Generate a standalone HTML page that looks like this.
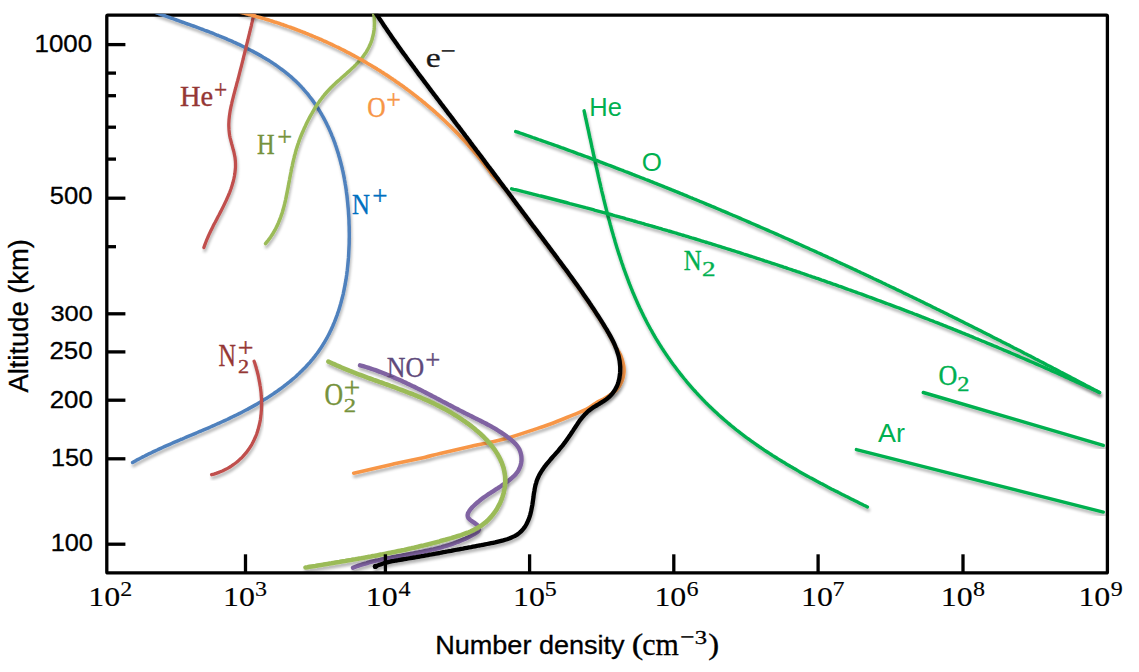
<!DOCTYPE html>
<html><head><meta charset="utf-8"><title>Ion and neutral number density vs altitude</title>
<style>html,body{margin:0;padding:0;background:#fff;}body{width:1139px;height:672px;overflow:hidden;}svg{display:block;}</style>
</head><body>
<svg width="1139" height="672" viewBox="0 0 1139 672">
<defs><clipPath id="pc"><rect x="106.8" y="13.8" width="1000.6000000000001" height="559.1"/></clipPath><filter id="sh" x="-5%" y="-5%" width="110%" height="110%"><feGaussianBlur in="SourceAlpha" stdDeviation="1.4"/><feOffset dx="0.8" dy="2.6" result="o"/><feComponentTransfer><feFuncA type="linear" slope="0.30"/></feComponentTransfer><feMerge><feMergeNode/><feMergeNode in="SourceGraphic"/></feMerge></filter></defs>
<rect x="106.8" y="15.2" width="1000.6" height="557.7" fill="none" rx="1" stroke="#000" stroke-width="3.3"/>
<g clip-path="url(#pc)" fill="none" stroke-linecap="round" stroke-linejoin="round">
<path d="M155.5,12.4 L157.2,13.0 L158.9,13.7 L160.6,14.3 L162.3,14.9 L164.0,15.5 L165.8,16.2 L167.6,16.8 L169.4,17.4 L171.1,18.1 L172.9,18.7 L174.8,19.3 L176.6,20.0 L178.4,20.6 L180.3,21.3 L182.1,22.0 L184.0,22.6 L185.8,23.3 L187.7,24.0 L189.6,24.6 L191.5,25.3 L193.4,26.0 L195.3,26.7 L197.2,27.4 L199.1,28.1 L201.0,28.8 L202.9,29.5 L204.9,30.3 L206.8,31.0 L208.7,31.7 L210.6,32.5 L212.6,33.2 L214.5,34.0 L216.4,34.8 L218.3,35.5 L220.3,36.3 L222.2,37.1 L224.1,37.9 L226.0,38.7 L227.9,39.6 L229.9,40.4 L231.8,41.2 L233.7,42.1 L235.6,42.9 L237.5,43.8 L239.4,44.7 L241.3,45.6 L243.1,46.5 L245.0,47.4 L246.9,48.3 L248.7,49.2 L250.6,50.2 L252.4,51.1 L254.2,52.1 L256.1,53.1 L257.9,54.1 L259.7,55.1 L261.5,56.1 L263.2,57.2 L265.0,58.2 L266.7,59.3 L268.5,60.3 L270.2,61.4 L271.9,62.5 L273.6,63.6 L275.3,64.8 L276.9,65.9 L278.6,67.1 L280.2,68.3 L281.8,69.5 L283.4,70.7 L285.0,71.9 L286.5,73.1 L288.1,74.4 L289.6,75.7 L291.1,76.9 L292.6,78.3 L294.0,79.6 L295.5,80.9 L296.9,82.3 L298.3,83.6 L299.6,85.0 L301.0,86.4 L302.3,87.9 L303.6,89.3 L304.9,90.8 L306.2,92.3 L307.4,93.7 L308.6,95.2 L309.8,96.8 L311.0,98.3 L312.2,99.9 L313.3,101.4 L314.4,103.0 L315.5,104.6 L316.6,106.2 L317.6,107.8 L318.7,109.5 L319.7,111.1 L320.7,112.8 L321.7,114.5 L322.6,116.2 L323.6,117.9 L324.5,119.6 L325.4,121.3 L326.3,123.1 L327.1,124.8 L328.0,126.6 L328.8,128.3 L329.6,130.1 L330.4,131.9 L331.2,133.7 L331.9,135.6 L332.7,137.4 L333.4,139.2 L334.1,141.1 L334.8,142.9 L335.4,144.8 L336.1,146.7 L336.7,148.6 L337.3,150.5 L337.9,152.4 L338.5,154.3 L339.0,156.2 L339.6,158.1 L340.1,160.1 L340.6,162.0 L341.1,164.0 L341.6,165.9 L342.1,167.9 L342.5,169.9 L343.0,171.8 L343.4,173.8 L343.8,175.8 L344.2,177.8 L344.5,179.8 L344.9,181.8 L345.2,183.8 L345.6,185.9 L345.9,187.9 L346.2,189.9 L346.4,191.9 L346.7,194.0 L347.0,196.0 L347.2,198.0 L347.4,200.1 L347.6,202.1 L347.8,204.2 L348.0,206.3 L348.2,208.3 L348.4,210.4 L348.5,212.4 L348.6,214.5 L348.8,216.6 L348.9,218.6 L349.0,220.7 L349.0,222.8 L349.1,224.8 L349.2,226.9 L349.2,229.0 L349.2,231.1 L349.3,233.1 L349.3,235.2 L349.3,237.3 L349.2,239.4 L349.2,241.4 L349.2,243.5 L349.1,245.6 L349.0,247.6 L348.9,249.7 L348.8,251.8 L348.7,253.8 L348.6,255.9 L348.5,257.9 L348.3,260.0 L348.1,262.0 L347.9,264.1 L347.7,266.1 L347.5,268.1 L347.3,270.2 L347.0,272.2 L346.8,274.2 L346.5,276.2 L346.2,278.2 L345.9,280.2 L345.5,282.2 L345.2,284.2 L344.8,286.2 L344.4,288.2 L344.0,290.2 L343.6,292.1 L343.2,294.1 L342.7,296.1 L342.2,298.0 L341.7,299.9 L341.2,301.9 L340.7,303.8 L340.1,305.7 L339.6,307.6 L339.0,309.5 L338.4,311.4 L337.7,313.2 L337.1,315.1 L336.4,316.9 L335.7,318.8 L335.0,320.6 L334.3,322.4 L333.5,324.2 L332.8,326.0 L332.0,327.8 L331.2,329.6 L330.3,331.3 L329.5,333.1 L328.6,334.8 L327.7,336.5 L326.8,338.3 L325.8,339.9 L324.8,341.6 L323.8,343.3 L322.8,344.9 L321.8,346.6 L320.7,348.2 L319.6,349.8 L318.5,351.4 L317.4,353.0 L316.2,354.5 L315.0,356.1 L313.8,357.6 L312.6,359.1 L311.3,360.6 L310.1,362.1 L308.8,363.6 L307.4,365.0 L306.1,366.5 L304.7,367.9 L303.3,369.3 L301.9,370.7 L300.5,372.1 L299.1,373.5 L297.6,374.8 L296.2,376.2 L294.7,377.5 L293.1,378.8 L291.6,380.1 L290.1,381.4 L288.5,382.6 L286.9,383.9 L285.3,385.1 L283.7,386.4 L282.1,387.6 L280.5,388.8 L278.8,390.0 L277.2,391.2 L275.5,392.3 L273.8,393.5 L272.1,394.6 L270.4,395.8 L268.7,396.9 L267.0,398.0 L265.2,399.1 L263.5,400.1 L261.7,401.2 L260.0,402.3 L258.2,403.3 L256.4,404.4 L254.6,405.4 L252.8,406.4 L251.0,407.4 L249.2,408.4 L247.4,409.4 L245.6,410.3 L243.7,411.3 L241.9,412.2 L240.1,413.2 L238.2,414.1 L236.4,415.0 L234.5,415.9 L232.7,416.8 L230.8,417.7 L229.0,418.6 L227.1,419.5 L225.3,420.3 L223.4,421.2 L221.6,422.0 L219.7,422.9 L217.9,423.7 L216.0,424.5 L214.1,425.4 L212.3,426.2 L210.4,427.0 L208.6,427.8 L206.7,428.6 L204.8,429.4 L203.0,430.2 L201.1,431.0 L199.3,431.7 L197.4,432.5 L195.5,433.3 L193.7,434.1 L191.8,434.9 L190.0,435.6 L188.1,436.4 L186.3,437.2 L184.4,438.0 L182.6,438.8 L180.7,439.5 L178.9,440.3 L177.1,441.1 L175.2,441.9 L173.4,442.7 L171.6,443.5 L169.8,444.3 L167.9,445.1 L166.1,445.9 L164.3,446.7 L162.5,447.5 L160.7,448.3 L158.9,449.1 L157.1,450.0 L155.3,450.8 L153.5,451.6 L151.8,452.5 L150.0,453.4 L148.2,454.2 L146.4,455.1 L144.7,456.0 L142.9,456.9 L141.2,457.8 L139.4,458.7 L137.7,459.6 L136.0,460.6 L134.3,461.5 L132.6,462.5" stroke="#4f81bd" stroke-width="3.5" filter="url(#sh)"/>
<path d="M254.5,12.0 L254.0,14.0 L253.6,15.9 L253.1,17.9 L252.6,19.9 L252.2,21.9 L251.7,23.8 L251.3,25.8 L250.8,27.8 L250.3,29.7 L249.9,31.7 L249.4,33.6 L248.9,35.6 L248.4,37.6 L248.0,39.5 L247.5,41.5 L247.0,43.4 L246.5,45.4 L246.1,47.3 L245.6,49.3 L245.1,51.2 L244.6,53.2 L244.1,55.1 L243.6,57.0 L243.2,59.0 L242.7,60.9 L242.2,62.9 L241.7,64.8 L241.2,66.8 L240.7,68.7 L240.2,70.7 L239.7,72.6 L239.2,74.6 L238.7,76.6 L238.2,78.5 L237.7,80.5 L237.1,82.4 L236.6,84.4 L236.1,86.4 L235.6,88.3 L235.0,90.3 L234.5,92.3 L234.0,94.2 L233.5,96.2 L233.0,98.2 L232.5,100.2 L232.0,102.2 L231.6,104.1 L231.1,106.1 L230.7,108.1 L230.3,110.1 L230.0,112.1 L229.7,114.1 L229.4,116.0 L229.2,118.0 L229.0,120.0 L228.9,122.0 L228.8,124.0 L228.8,125.9 L228.9,127.9 L229.0,129.9 L229.2,131.9 L229.4,133.8 L229.7,135.8 L230.1,137.8 L230.6,139.7 L231.1,141.7 L231.6,143.7 L232.2,145.6 L232.7,147.6 L233.2,149.6 L233.8,151.5 L234.2,153.5 L234.6,155.5 L235.0,157.4 L235.2,159.4 L235.4,161.4 L235.5,163.4 L235.5,165.4 L235.5,167.4 L235.3,169.4 L235.1,171.4 L234.9,173.3 L234.6,175.3 L234.2,177.3 L233.8,179.2 L233.3,181.1 L232.8,183.1 L232.2,185.0 L231.6,186.9 L231.0,188.8 L230.3,190.7 L229.6,192.6 L228.8,194.5 L228.0,196.3 L227.2,198.2 L226.4,200.0 L225.5,201.9 L224.6,203.7 L223.7,205.6 L222.8,207.4 L221.9,209.2 L221.0,211.1 L220.0,212.9 L219.1,214.7 L218.1,216.5 L217.2,218.4 L216.2,220.2 L215.3,222.0 L214.3,223.8 L213.4,225.6 L212.5,227.4 L211.6,229.3 L210.7,231.1 L209.8,232.9 L209.0,234.7 L208.2,236.5 L207.4,238.4 L206.6,240.2 L205.9,242.0 L205.2,243.9 L204.5,245.7 L203.9,247.6" stroke="#c0504d" stroke-width="3.3" filter="url(#sh)"/>
<path d="M372.6,8.7 L373.1,10.8 L373.5,13.0 L373.9,15.1 L374.2,17.3 L374.3,19.4 L374.4,21.5 L374.5,23.6 L374.4,25.6 L374.3,27.7 L374.1,29.7 L373.8,31.7 L373.5,33.7 L373.0,35.7 L372.5,37.6 L372.0,39.5 L371.4,41.4 L370.7,43.2 L369.9,45.0 L369.1,46.8 L368.2,48.5 L367.3,50.2 L366.3,51.9 L365.2,53.5 L364.1,55.1 L363.0,56.7 L361.7,58.3 L360.5,59.8 L359.2,61.2 L357.9,62.7 L356.5,64.1 L355.1,65.6 L353.7,67.0 L352.2,68.3 L350.7,69.7 L349.2,71.1 L347.7,72.4 L346.2,73.8 L344.7,75.1 L343.1,76.5 L341.6,77.8 L340.1,79.2 L338.5,80.6 L337.0,81.9 L335.5,83.3 L334.0,84.7 L332.6,86.1 L331.1,87.5 L329.7,89.0 L328.3,90.5 L326.9,92.0 L325.6,93.5 L324.3,95.0 L323.0,96.6 L321.8,98.2 L320.6,99.8 L319.4,101.4 L318.3,103.1 L317.1,104.8 L316.0,106.4 L314.9,108.2 L313.9,109.9 L312.9,111.6 L311.9,113.4 L310.9,115.1 L309.9,116.9 L309.0,118.7 L308.0,120.5 L307.1,122.3 L306.2,124.1 L305.4,125.9 L304.5,127.8 L303.7,129.6 L302.9,131.5 L302.1,133.3 L301.3,135.2 L300.5,137.1 L299.8,139.0 L299.1,140.9 L298.5,142.8 L297.8,144.7 L297.2,146.6 L296.6,148.5 L296.0,150.4 L295.5,152.4 L295.0,154.3 L294.4,156.3 L294.0,158.2 L293.5,160.2 L293.0,162.1 L292.6,164.1 L292.2,166.1 L291.7,168.0 L291.3,170.0 L291.0,172.0 L290.6,174.0 L290.2,176.0 L289.8,178.0 L289.5,180.0 L289.1,181.9 L288.7,183.9 L288.4,185.9 L288.0,187.9 L287.6,189.9 L287.2,191.9 L286.8,193.9 L286.4,195.9 L286.0,197.8 L285.6,199.8 L285.1,201.8 L284.7,203.7 L284.2,205.7 L283.7,207.6 L283.1,209.5 L282.6,211.5 L282.0,213.4 L281.3,215.3 L280.7,217.1 L280.0,219.0 L279.2,220.9 L278.5,222.7 L277.7,224.6 L276.8,226.4 L275.9,228.2 L275.0,230.0 L274.0,231.7 L272.9,233.5 L271.8,235.2 L270.7,236.9 L269.5,238.6 L268.2,240.3 L266.9,241.9 L265.5,243.6" stroke="#9bbb59" stroke-width="3.5" filter="url(#sh)"/>
<path d="M254.1,361.2 L254.8,363.1 L255.4,365.1 L256.0,367.0 L256.5,369.0 L257.1,371.0 L257.6,373.0 L258.1,375.0 L258.5,377.0 L258.9,379.0 L259.3,381.1 L259.7,383.1 L260.0,385.2 L260.4,387.2 L260.6,389.3 L260.9,391.4 L261.1,393.4 L261.2,395.5 L261.4,397.6 L261.5,399.7 L261.5,401.7 L261.5,403.8 L261.5,405.9 L261.5,407.9 L261.4,410.0 L261.2,412.0 L261.1,414.0 L260.8,416.1 L260.6,418.1 L260.3,420.1 L259.9,422.1 L259.5,424.0 L259.0,426.0 L258.5,427.9 L258.0,429.8 L257.4,431.7 L256.8,433.6 L256.1,435.4 L255.3,437.3 L254.5,439.0 L253.7,440.8 L252.8,442.6 L251.9,444.3 L250.9,446.0 L249.8,447.6 L248.7,449.3 L247.6,450.8 L246.4,452.4 L245.1,453.9 L243.8,455.4 L242.5,456.9 L241.1,458.3 L239.6,459.6 L238.1,461.0 L236.6,462.3 L235.0,463.5 L233.3,464.7 L231.6,465.9 L229.9,467.0 L228.0,468.1 L226.2,469.1 L224.3,470.0 L222.3,471.0 L220.3,471.8 L218.2,472.6 L216.0,473.4 L213.9,474.1 L211.6,474.7" stroke="#c0504d" stroke-width="3.3" filter="url(#sh)"/>
<path d="M239.6,12.0 C239.9,12.0 240.9,12.3 241.5,12.5 C242.2,12.6 242.9,12.8 243.5,13.0 C244.2,13.1 244.8,13.3 245.5,13.5 C246.1,13.6 246.8,13.8 247.4,14.0 C248.1,14.1 248.8,14.3 249.4,14.5 C250.1,14.7 250.7,14.8 251.4,15.0 C252.0,15.2 252.7,15.4 253.3,15.6 C254.0,15.7 254.6,15.9 255.3,16.1 C255.9,16.3 256.6,16.5 257.2,16.7 C257.9,16.8 258.6,17.0 259.2,17.2 C259.9,17.4 260.5,17.6 261.2,17.8 C261.8,18.0 262.5,18.2 263.1,18.4 C263.7,18.6 264.4,18.8 265.0,18.9 C265.7,19.1 266.3,19.3 267.0,19.5 C267.6,19.7 268.3,19.9 268.9,20.1 C269.6,20.3 270.2,20.5 270.9,20.7 C271.5,20.9 272.2,21.2 272.8,21.4 C273.4,21.6 274.1,21.8 274.7,22.0 C275.4,22.2 276.0,22.4 276.7,22.6 C277.3,22.8 277.9,23.0 278.6,23.2 C279.2,23.5 279.9,23.7 280.5,23.9 C281.1,24.1 281.8,24.3 282.4,24.5 C283.1,24.8 283.7,25.0 284.3,25.2 C285.0,25.4 285.6,25.7 286.3,25.9 C286.9,26.1 287.5,26.3 288.2,26.6 C288.8,26.8 289.4,27.0 290.1,27.2 C290.7,27.5 291.3,27.7 292.0,27.9 C292.6,28.2 293.2,28.4 293.9,28.6 C294.5,28.9 295.1,29.1 295.8,29.3 C296.4,29.6 297.0,29.8 297.7,30.0 C298.3,30.3 298.9,30.5 299.6,30.8 C300.2,31.0 300.8,31.3 301.5,31.5 C302.1,31.7 302.7,32.0 303.3,32.2 C304.0,32.5 304.6,32.7 305.2,33.0 C305.8,33.2 306.5,33.5 307.1,33.7 C307.7,34.0 308.4,34.2 309.0,34.5 C309.6,34.8 310.2,35.0 310.8,35.3 C311.5,35.5 312.1,35.8 312.7,36.0 C313.3,36.3 314.0,36.6 314.6,36.8 C315.2,37.1 315.8,37.4 316.4,37.6 C317.1,37.9 317.7,38.2 318.3,38.4 C318.9,38.7 319.5,39.0 320.1,39.2 C320.8,39.5 321.4,39.8 322.0,40.0 C322.6,40.3 323.2,40.6 323.8,40.9 C324.5,41.1 325.1,41.4 325.7,41.7 C326.3,42.0 326.9,42.3 327.5,42.5 C328.1,42.8 328.7,43.1 329.4,43.4 C330.0,43.7 330.6,44.0 331.2,44.2 C331.8,44.5 332.4,44.8 333.0,45.1 C333.6,45.4 334.2,45.7 334.8,46.0 C335.4,46.3 336.0,46.6 336.7,46.9 C337.3,47.1 337.9,47.4 338.5,47.7 C339.1,48.0 339.7,48.3 340.3,48.6 C340.9,48.9 341.5,49.2 342.1,49.5 C342.7,49.8 343.3,50.1 343.9,50.4 C344.5,50.7 345.1,51.0 345.7,51.4 C346.3,51.7 346.9,52.0 347.5,52.3 C348.1,52.6 348.7,52.9 349.3,53.2 C349.9,53.5 350.5,53.8 351.0,54.2 C351.6,54.5 352.2,54.8 352.8,55.1 C353.4,55.4 354.0,55.7 354.6,56.1 C355.2,56.4 355.8,56.7 356.4,57.0 C357.0,57.3 357.6,57.7 358.1,58.0 C358.7,58.3 359.3,58.6 359.9,59.0 C360.5,59.3 361.1,59.6 361.7,59.9 C362.2,60.3 362.8,60.6 363.4,60.9 C364.0,61.3 364.6,61.6 365.2,61.9 C365.7,62.3 366.3,62.6 366.9,63.0 C367.5,63.3 368.1,63.6 368.6,64.0 C369.2,64.3 369.8,64.7 370.4,65.0 C371.0,65.3 371.5,65.7 372.1,66.0 C372.7,66.4 373.3,66.7 373.8,67.1 C374.4,67.4 375.0,67.8 375.5,68.1 C376.1,68.5 376.7,68.8 377.3,69.2 C377.8,69.5 378.4,69.9 379.0,70.2 C379.5,70.6 380.1,70.9 380.7,71.3 C381.2,71.7 381.8,72.0 382.4,72.4 C382.9,72.7 383.5,73.1 384.1,73.5 C384.6,73.8 385.2,74.2 385.8,74.6 C386.3,74.9 386.9,75.3 387.4,75.7 C388.0,76.0 388.6,76.4 389.1,76.8 C389.7,77.1 390.2,77.5 390.8,77.9 C391.4,78.3 391.9,78.6 392.5,79.0 C393.0,79.4 393.6,79.8 394.1,80.2 C394.7,80.5 395.2,80.9 395.8,81.3 C396.3,81.7 396.9,82.1 397.4,82.4 C398.0,82.8 398.5,83.2 399.1,83.6 C399.6,84.0 400.2,84.4 400.7,84.8 C401.3,85.2 401.8,85.5 402.4,85.9 C402.9,86.3 403.5,86.7 404.0,87.1 C404.5,87.5 405.1,87.9 405.6,88.3 C406.2,88.7 406.7,89.1 407.2,89.5 C407.8,89.9 408.3,90.3 408.9,90.7 C409.4,91.1 409.9,91.5 410.5,91.9 C411.0,92.3 411.5,92.7 412.1,93.1 C412.6,93.5 413.1,93.9 413.7,94.4 C414.2,94.8 414.7,95.2 415.3,95.6 C415.8,96.0 416.3,96.4 416.8,96.8 C417.4,97.2 417.9,97.7 418.4,98.1 C418.9,98.5 419.5,98.9 420.0,99.3 C420.5,99.8 421.0,100.2 421.6,100.6 C422.1,101.0 422.6,101.4 423.1,101.9 C423.6,102.3 424.2,102.7 424.7,103.2 C425.2,103.6 425.7,104.0 426.2,104.4 C426.7,104.9 427.3,105.3 427.8,105.7 C428.3,106.2 428.8,106.6 429.3,107.0 C429.8,107.5 430.3,107.9 430.8,108.4 C431.3,108.8 431.9,109.2 432.4,109.7 C432.9,110.1 433.4,110.6 433.9,111.0 C434.4,111.4 434.9,111.9 435.4,112.3 C435.9,112.8 436.4,113.2 436.9,113.7 C437.4,114.1 437.9,114.6 438.4,115.0 C438.9,115.5 439.4,115.9 439.9,116.4 C440.4,116.8 440.9,117.3 441.4,117.7 C441.9,118.2 442.4,118.7 442.9,119.1 C443.3,119.6 443.8,120.0 444.3,120.5 C444.8,121.0 445.3,121.4 445.8,121.9 C446.3,122.4 446.8,122.8 447.3,123.3 C447.7,123.8 448.2,124.2 448.7,124.7 C449.2,125.2 449.7,125.6 450.2,126.1 C450.6,126.6 451.1,127.0 451.6,127.5 C452.1,128.0 452.6,128.5 453.0,128.9 C453.5,129.4 454.0,129.9 454.5,130.4 C454.9,130.9 455.4,131.3 455.9,131.8 C456.3,132.3 456.8,132.8 457.3,133.3 C457.8,133.8 458.2,134.2 458.7,134.7 C459.2,135.2 459.6,135.7 460.1,136.2 C460.6,136.7 461.0,137.2 461.5,137.7 C462.0,138.2 462.4,138.7 462.9,139.2 C463.3,139.7 463.8,140.1 464.3,140.6 C464.7,141.1 465.2,141.6 465.6,142.1 C466.1,142.6 466.5,143.1 467.0,143.6 C467.4,144.2 467.9,144.7 468.3,145.2 C468.8,145.7 469.2,146.2 469.7,146.7 C470.1,147.2 470.6,147.7 471.0,148.2 C471.5,148.7 471.9,149.2 472.4,149.7 C472.8,150.3 473.3,150.8 473.7,151.3 C474.1,151.8 474.6,152.3 475.0,152.8 C475.5,153.4 475.9,153.9 476.3,154.4 C476.8,154.9 477.2,155.4 477.6,156.0 C478.1,156.5 478.5,157.0 478.9,157.5 C479.4,158.1 479.8,158.6 480.2,159.1 C480.7,159.7 481.1,160.2 481.5,160.7 C481.9,161.2 482.4,161.8 482.8,162.3 C483.2,162.8 483.6,163.4 484.1,163.9 C484.5,164.5 484.9,165.0 485.3,165.5 C485.7,166.1 486.2,166.6 486.6,167.2 C487.0,167.7 487.4,168.2 487.8,168.8 C488.2,169.3 488.6,169.9 489.1,170.4 C489.5,171.0 489.9,171.5 490.3,172.1 C490.7,172.6 491.1,173.2 491.5,173.7 C491.9,174.3 490.6,173.1 492.7,175.4 C494.8,177.7 501.9,185.2 503.9,187.5 C506.0,189.8 504.8,188.6 505.2,189.1 C505.6,189.6 506.0,190.2 506.4,190.7 C506.8,191.2 507.2,191.8 507.6,192.3 C508.0,192.9 508.4,193.4 508.8,193.9 C509.2,194.5 509.6,195.0 510.0,195.5 C510.4,196.1 510.8,196.6 511.2,197.1 C511.6,197.7 512.0,198.2 512.4,198.8 C512.8,199.3 513.2,199.8 513.6,200.4 C514.0,200.9 514.4,201.4 514.8,202.0 C515.2,202.5 515.6,203.0 516.0,203.6 C516.4,204.1 516.8,204.6 517.2,205.2 C517.6,205.7 518.0,206.3 518.4,206.8 C518.8,207.3 519.2,207.9 519.6,208.4 C520.0,208.9 520.4,209.5 520.8,210.0 C521.2,210.5 521.6,211.1 522.0,211.6 C522.4,212.1 522.8,212.7 523.2,213.2 C523.6,213.8 524.0,214.3 524.4,214.8 C524.8,215.4 525.2,215.9 525.6,216.4 C526.0,217.0 526.4,217.5 526.8,218.0 C527.2,218.6 527.6,219.1 528.0,219.6 C528.4,220.2 528.8,220.7 529.2,221.2 C529.6,221.8 530.0,222.3 530.4,222.9 C530.8,223.4 531.2,223.9 531.6,224.5 C532.0,225.0 532.4,225.5 532.8,226.1 C533.3,226.6 533.7,227.1 534.1,227.7 C534.5,228.2 534.9,228.7 535.3,229.3 C535.7,229.8 536.1,230.3 536.5,230.9 C536.9,231.4 537.3,231.9 537.7,232.5 C538.1,233.0 538.5,233.5 538.9,234.1 C539.3,234.6 539.7,235.1 540.1,235.7 C540.5,236.2 540.9,236.8 541.3,237.3 C541.7,237.8 542.1,238.4 542.5,238.9 C542.9,239.4 543.3,240.0 543.7,240.5 C544.1,241.0 544.5,241.6 544.9,242.1 C545.3,242.6 545.7,243.2 546.1,243.7 C546.5,244.2 546.9,244.8 547.3,245.3 C547.7,245.8 548.1,246.4 548.5,246.9 C548.9,247.4 549.3,248.0 549.7,248.5 C550.1,249.0 550.5,249.6 550.9,250.1 C551.3,250.6 551.7,251.2 552.1,251.7 C552.5,252.2 552.9,252.8 553.3,253.3 C553.7,253.8 554.1,254.4 554.5,254.9 C554.9,255.4 555.3,256.0 555.7,256.5 C556.1,257.0 556.5,257.6 556.9,258.1 C557.3,258.6 557.6,259.2 558.0,259.7 C558.4,260.2 558.8,260.8 559.2,261.3 C559.6,261.8 560.0,262.4 560.4,262.9 C560.8,263.4 561.2,264.0 561.6,264.5 C562.0,265.0 562.4,265.6 562.8,266.1 C563.2,266.6 563.6,267.2 564.0,267.7 C564.4,268.2 564.8,268.8 565.2,269.3 C565.6,269.9 566.0,270.4 566.4,270.9 C566.8,271.5 567.2,272.0 567.6,272.5 C568.0,273.1 568.3,273.6 568.7,274.1 C569.1,274.7 569.5,275.2 569.9,275.8 C570.3,276.3 570.7,276.8 571.1,277.4 C571.5,277.9 571.9,278.5 572.3,279.0 C572.7,279.5 573.1,280.1 573.4,280.6 C573.8,281.2 574.2,281.7 574.6,282.2 C575.0,282.8 575.4,283.3 575.8,283.9 C576.2,284.4 576.6,285.0 577.0,285.5 C577.3,286.0 577.7,286.6 578.1,287.1 C578.5,287.7 578.9,288.2 579.3,288.8 C579.7,289.3 580.0,289.9 580.4,290.4 C580.8,291.0 581.2,291.5 581.6,292.1 C582.0,292.6 582.4,293.2 582.7,293.7 C583.1,294.3 583.5,294.8 583.9,295.4 C584.3,295.9 584.7,296.5 585.0,297.0 C585.4,297.6 585.8,298.1 586.2,298.7 C586.6,299.2 586.9,299.8 587.3,300.3 C587.7,300.9 588.1,301.4 588.5,302.0 C588.8,302.5 589.2,303.1 589.6,303.7 C590.0,304.2 590.3,304.8 590.7,305.3 C591.1,305.9 591.5,306.5 591.8,307.0 C592.2,307.6 592.6,308.1 593.0,308.7 C593.3,309.3 593.7,309.8 594.1,310.4 C594.4,311.0 594.8,311.5 595.2,312.1 C595.6,312.6 595.9,313.2 596.3,313.8 C596.7,314.3 597.0,314.9 597.4,315.5 C597.8,316.1 598.1,316.6 598.5,317.2 C598.9,317.8 599.2,318.3 599.6,318.9 C600.0,319.5 600.3,320.1 600.7,320.6 C601.0,321.2 601.4,321.8 601.8,322.4 C602.1,322.9 602.5,323.5 602.9,324.1 C603.2,324.7 603.6,325.2 603.9,325.8 C604.3,326.4 604.6,327.0 605.0,327.6 C605.4,328.1 605.7,328.7 606.1,329.3 C606.4,329.9 606.8,330.5 607.1,331.1 C607.5,331.7 607.8,332.3 608.1,332.8 C608.5,333.4 608.8,334.0 609.1,334.6 C609.5,335.2 609.8,335.8 610.1,336.4 C610.5,337.0 610.8,337.6 611.1,338.2 C611.4,338.8 611.7,339.4 612.0,340.0 C612.3,340.6 612.6,341.2 612.9,341.8 C613.2,342.4 613.5,343.0 613.8,343.7 C614.0,344.3 613.4,343.6 614.6,345.5 C615.7,347.4 619.0,351.7 620.5,355.0 C622.0,358.3 622.9,362.2 623.5,365.0 C624.1,367.8 624.2,369.3 624.0,372.0 C623.8,374.7 623.2,378.0 622.0,381.0 C620.8,384.0 619.2,387.2 616.5,390.0 C613.8,392.8 609.4,395.3 606.0,397.5 C602.6,399.7 599.2,401.1 596.0,403.0 C592.8,404.9 590.7,407.1 586.7,409.2 C582.7,411.3 577.9,413.0 572.0,415.4 C566.1,417.8 556.9,421.6 551.2,423.8 C545.6,425.9 546.3,425.5 538.3,428.1 C530.3,430.7 514.9,436.2 503.2,439.3 C491.5,442.4 478.6,444.6 468.1,447.0 C457.6,449.4 447.3,451.7 440.0,453.4 C432.7,455.1 432.2,455.6 424.3,457.4 C416.4,459.2 404.5,461.6 392.7,464.2 C380.9,466.8 360.2,471.7 353.7,473.2" stroke="#f79646" stroke-width="3.6" filter="url(#sh)"/>
<path d="M584.1,110.8 L584.5,112.7 L584.9,114.6 L585.3,116.5 L585.7,118.5 L586.2,120.4 L586.6,122.3 L587.0,124.2 L587.4,126.1 L587.8,128.0 L588.3,130.0 L588.7,131.9 L589.1,133.8 L589.5,135.8 L589.9,137.7 L590.4,139.6 L590.8,141.6 L591.2,143.5 L591.6,145.5 L592.0,147.4 L592.5,149.4 L592.9,151.4 L593.3,153.3 L593.7,155.3 L594.2,157.2 L594.6,159.2 L595.0,161.2 L595.5,163.1 L595.9,165.1 L596.3,167.1 L596.8,169.0 L597.2,171.0 L597.7,173.0 L598.1,175.0 L598.5,176.9 L599.0,178.9 L599.4,180.9 L599.9,182.9 L600.4,184.8 L600.8,186.8 L601.3,188.8 L601.7,190.8 L602.2,192.8 L602.7,194.7 L603.2,196.7 L603.6,198.7 L604.1,200.7 L604.6,202.7 L605.1,204.6 L605.6,206.6 L606.1,208.6 L606.6,210.6 L607.1,212.5 L607.6,214.5 L608.1,216.5 L608.6,218.5 L609.2,220.4 L609.7,222.4 L610.2,224.4 L610.8,226.3 L611.3,228.3 L611.8,230.3 L612.4,232.2 L613.0,234.2 L613.5,236.2 L614.1,238.1 L614.7,240.1 L615.2,242.0 L615.8,244.0 L616.4,245.9 L617.0,247.9 L617.6,249.8 L618.2,251.7 L618.8,253.7 L619.5,255.6 L620.1,257.5 L620.7,259.5 L621.4,261.4 L622.0,263.3 L622.7,265.2 L623.3,267.1 L624.0,269.1 L624.7,271.0 L625.4,272.9 L626.1,274.8 L626.8,276.7 L627.5,278.6 L628.2,280.4 L628.9,282.3 L629.6,284.2 L630.4,286.1 L631.1,287.9 L631.9,289.8 L632.6,291.7 L633.4,293.5 L634.2,295.4 L635.0,297.2 L635.8,299.1 L636.6,300.9 L637.4,302.7 L638.2,304.5 L639.1,306.4 L639.9,308.2 L640.8,310.0 L641.6,311.8 L642.5,313.6 L643.4,315.4 L644.3,317.2 L645.2,318.9 L646.1,320.7 L647.0,322.5 L647.9,324.2 L648.9,326.0 L649.8,327.7 L650.8,329.5 L651.8,331.2 L652.7,332.9 L653.7,334.6 L654.7,336.4 L655.7,338.1 L656.8,339.8 L657.8,341.5 L658.8,343.1 L659.9,344.8 L660.9,346.5 L662.0,348.2 L663.1,349.8 L664.2,351.5 L665.3,353.1 L666.4,354.8 L667.5,356.4 L668.6,358.0 L669.8,359.6 L670.9,361.3 L672.1,362.9 L673.2,364.5 L674.4,366.0 L675.6,367.6 L676.8,369.2 L678.0,370.8 L679.2,372.3 L680.4,373.9 L681.6,375.4 L682.9,377.0 L684.1,378.5 L685.4,380.0 L686.6,381.6 L687.9,383.1 L689.2,384.6 L690.5,386.1 L691.8,387.6 L693.1,389.1 L694.4,390.5 L695.8,392.0 L697.1,393.5 L698.4,394.9 L699.8,396.4 L701.2,397.8 L702.5,399.2 L703.9,400.6 L705.3,402.1 L706.7,403.5 L708.1,404.9 L709.5,406.3 L711.0,407.6 L712.4,409.0 L713.8,410.4 L715.3,411.7 L716.8,413.1 L718.2,414.4 L719.7,415.8 L721.2,417.1 L722.7,418.4 L724.2,419.7 L725.7,421.0 L727.2,422.3 L728.8,423.6 L730.3,424.9 L731.9,426.2 L733.4,427.4 L735.0,428.7 L736.5,430.0 L738.1,431.2 L739.7,432.4 L741.3,433.7 L742.9,434.9 L744.5,436.1 L746.1,437.3 L747.7,438.5 L749.4,439.7 L751.0,440.9 L752.7,442.0 L754.3,443.2 L756.0,444.4 L757.6,445.5 L759.3,446.7 L761.0,447.8 L762.6,448.9 L764.3,450.1 L766.0,451.2 L767.7,452.3 L769.4,453.4 L771.1,454.5 L772.8,455.6 L774.6,456.7 L776.3,457.8 L778.0,458.9 L779.7,459.9 L781.5,461.0 L783.2,462.1 L785.0,463.1 L786.7,464.2 L788.5,465.2 L790.2,466.3 L792.0,467.3 L793.7,468.3 L795.5,469.3 L797.3,470.4 L799.0,471.4 L800.8,472.4 L802.6,473.4 L804.4,474.4 L806.2,475.4 L808.0,476.4 L809.7,477.4 L811.5,478.3 L813.3,479.3 L815.1,480.3 L816.9,481.3 L818.7,482.2 L820.5,483.2 L822.3,484.1 L824.1,485.1 L825.9,486.0 L827.7,487.0 L829.5,487.9 L831.3,488.9 L833.1,489.8 L834.9,490.7 L836.8,491.6 L838.6,492.6 L840.4,493.5 L842.2,494.4 L844.0,495.3 L845.8,496.2 L847.6,497.1 L849.4,498.0 L851.2,498.9 L853.0,499.8 L854.8,500.7 L856.6,501.6 L858.4,502.5 L860.2,503.4 L862.0,504.3 L863.8,505.2 L865.6,506.0 L867.4,506.9" stroke="#00b050" stroke-width="3.4" filter="url(#sh)"/>
<path d="M515.7,131.6 L517.7,132.2 L519.6,132.9 L521.5,133.5 L523.4,134.2 L525.3,134.8 L527.2,135.5 L529.1,136.2 L531.0,136.8 L532.8,137.5 L534.7,138.1 L536.6,138.8 L538.5,139.5 L540.4,140.1 L542.3,140.8 L544.2,141.5 L546.1,142.2 L548.0,142.8 L549.9,143.5 L551.8,144.2 L553.7,144.8 L555.6,145.5 L557.5,146.2 L559.4,146.9 L561.3,147.6 L563.1,148.2 L565.0,148.9 L566.9,149.6 L568.8,150.3 L570.7,151.0 L572.6,151.7 L574.5,152.4 L576.4,153.1 L578.2,153.8 L580.1,154.4 L582.0,155.1 L583.9,155.8 L585.8,156.5 L587.7,157.2 L589.5,157.9 L591.4,158.6 L593.3,159.3 L595.2,160.0 L597.1,160.7 L598.9,161.4 L600.8,162.2 L602.7,162.9 L604.6,163.6 L606.5,164.3 L608.3,165.0 L610.2,165.7 L612.1,166.4 L614.0,167.1 L615.8,167.9 L617.7,168.6 L619.6,169.3 L621.5,170.0 L623.3,170.7 L625.2,171.5 L627.1,172.2 L629.0,172.9 L630.8,173.6 L632.7,174.4 L634.6,175.1 L636.4,175.8 L638.3,176.5 L640.2,177.3 L642.0,178.0 L643.9,178.7 L645.8,179.5 L647.6,180.2 L649.5,180.9 L651.4,181.7 L653.2,182.4 L655.1,183.2 L657.0,183.9 L658.8,184.7 L660.7,185.4 L662.6,186.1 L664.4,186.9 L666.3,187.6 L668.2,188.4 L670.0,189.1 L671.9,189.9 L673.7,190.6 L675.6,191.4 L677.5,192.1 L679.3,192.9 L681.2,193.7 L683.0,194.4 L684.9,195.2 L686.7,195.9 L688.6,196.7 L690.5,197.5 L692.3,198.2 L694.2,199.0 L696.0,199.7 L697.9,200.5 L699.7,201.3 L701.6,202.0 L703.4,202.8 L705.3,203.6 L707.1,204.4 L709.0,205.1 L710.8,205.9 L712.7,206.7 L714.5,207.4 L716.4,208.2 L718.2,209.0 L720.1,209.8 L721.9,210.6 L723.8,211.3 L725.6,212.1 L727.5,212.9 L729.3,213.7 L731.2,214.5 L733.0,215.3 L734.9,216.0 L736.7,216.8 L738.6,217.6 L740.4,218.4 L742.2,219.2 L744.1,220.0 L745.9,220.8 L747.8,221.6 L749.6,222.4 L751.5,223.2 L753.3,224.0 L755.1,224.8 L757.0,225.6 L758.8,226.4 L760.7,227.2 L762.5,228.0 L764.3,228.8 L766.2,229.6 L768.0,230.4 L769.8,231.2 L771.7,232.0 L773.5,232.8 L775.3,233.6 L777.2,234.4 L779.0,235.2 L780.9,236.0 L782.7,236.9 L784.5,237.7 L786.4,238.5 L788.2,239.3 L790.0,240.1 L791.8,240.9 L793.7,241.8 L795.5,242.6 L797.3,243.4 L799.2,244.2 L801.0,245.0 L802.8,245.9 L804.7,246.7 L806.5,247.5 L808.3,248.3 L810.1,249.2 L812.0,250.0 L813.8,250.8 L815.6,251.6 L817.4,252.5 L819.3,253.3 L821.1,254.1 L822.9,255.0 L824.7,255.8 L826.6,256.6 L828.4,257.5 L830.2,258.3 L832.0,259.1 L833.9,260.0 L835.7,260.8 L837.5,261.7 L839.3,262.5 L841.1,263.4 L843.0,264.2 L844.8,265.0 L846.6,265.9 L848.4,266.7 L850.2,267.6 L852.1,268.4 L853.9,269.3 L855.7,270.1 L857.5,271.0 L859.3,271.8 L861.1,272.7 L863.0,273.5 L864.8,274.4 L866.6,275.2 L868.4,276.1 L870.2,276.9 L872.0,277.8 L873.8,278.7 L875.7,279.5 L877.5,280.4 L879.3,281.2 L881.1,282.1 L882.9,283.0 L884.7,283.8 L886.5,284.7 L888.3,285.5 L890.1,286.4 L892.0,287.3 L893.8,288.1 L895.6,289.0 L897.4,289.9 L899.2,290.7 L901.0,291.6 L902.8,292.5 L904.6,293.4 L906.4,294.2 L908.2,295.1 L910.0,296.0 L911.8,296.8 L913.6,297.7 L915.4,298.6 L917.3,299.5 L919.1,300.3 L920.9,301.2 L922.7,302.1 L924.5,303.0 L926.3,303.9 L928.1,304.7 L929.9,305.6 L931.7,306.5 L933.5,307.4 L935.3,308.3 L937.1,309.2 L938.9,310.0 L940.7,310.9 L942.5,311.8 L944.3,312.7 L946.1,313.6 L947.9,314.5 L949.7,315.4 L951.5,316.3 L953.3,317.2 L955.1,318.1 L956.9,318.9 L958.6,319.8 L960.4,320.7 L962.2,321.6 L964.0,322.5 L965.8,323.4 L967.6,324.3 L969.4,325.2 L971.2,326.1 L973.0,327.0 L974.8,327.9 L976.6,328.8 L978.4,329.7 L980.2,330.6 L982.0,331.5 L983.8,332.4 L985.5,333.3 L987.3,334.2 L989.1,335.1 L990.9,336.0 L992.7,337.0 L994.5,337.9 L996.3,338.8 L998.1,339.7 L999.9,340.6 L1001.6,341.5 L1003.4,342.4 L1005.2,343.3 L1007.0,344.2 L1008.8,345.1 L1010.6,346.1 L1012.4,347.0 L1014.1,347.9 L1015.9,348.8 L1017.7,349.7 L1019.5,350.6 L1021.3,351.5 L1023.1,352.5 L1024.8,353.4 L1026.6,354.3 L1028.4,355.2 L1030.2,356.1 L1032.0,357.1 L1033.8,358.0 L1035.5,358.9 L1037.3,359.8 L1039.1,360.8 L1040.9,361.7 L1042.7,362.6 L1044.4,363.5 L1046.2,364.5 L1048.0,365.4 L1049.8,366.3 L1051.6,367.2 L1053.3,368.2 L1055.1,369.1 L1056.9,370.0 L1058.7,371.0 L1060.4,371.9 L1062.2,372.8 L1064.0,373.7 L1065.8,374.7 L1067.5,375.6 L1069.3,376.5 L1071.1,377.5 L1072.9,378.4 L1074.6,379.3 L1076.4,380.3 L1078.2,381.2 L1080.0,382.2 L1081.7,383.1 L1083.5,384.0 L1085.3,385.0 L1087.1,385.9 L1088.8,386.8 L1090.6,387.8 L1092.4,388.7 L1094.1,389.7 L1095.9,390.6 L1097.7,391.5 L1099.5,392.5" stroke="#00b050" stroke-width="3.4" filter="url(#sh)"/>
<path d="M511.7,188.8 L513.6,189.3 L515.5,189.7 L517.5,190.2 L519.4,190.7 L521.4,191.2 L523.3,191.7 L525.3,192.1 L527.2,192.6 L529.2,193.1 L531.1,193.6 L533.0,194.1 L535.0,194.6 L536.9,195.1 L538.9,195.6 L540.8,196.0 L542.8,196.5 L544.7,197.0 L546.6,197.5 L548.6,198.0 L550.5,198.5 L552.5,199.0 L554.4,199.5 L556.4,200.0 L558.3,200.5 L560.2,201.0 L562.2,201.5 L564.1,202.0 L566.1,202.5 L568.0,203.0 L569.9,203.6 L571.9,204.1 L573.8,204.6 L575.8,205.1 L577.7,205.6 L579.6,206.1 L581.6,206.6 L583.5,207.1 L585.5,207.7 L587.4,208.2 L589.3,208.7 L591.3,209.2 L593.2,209.7 L595.1,210.3 L597.1,210.8 L599.0,211.3 L601.0,211.8 L602.9,212.4 L604.8,212.9 L606.8,213.4 L608.7,214.0 L610.6,214.5 L612.6,215.0 L614.5,215.6 L616.4,216.1 L618.4,216.6 L620.3,217.2 L622.2,217.7 L624.2,218.2 L626.1,218.8 L628.0,219.3 L630.0,219.9 L631.9,220.4 L633.8,221.0 L635.8,221.5 L637.7,222.1 L639.6,222.6 L641.6,223.2 L643.5,223.7 L645.4,224.3 L647.4,224.8 L649.3,225.4 L651.2,225.9 L653.2,226.5 L655.1,227.0 L657.0,227.6 L659.0,228.2 L660.9,228.7 L662.8,229.3 L664.7,229.8 L666.7,230.4 L668.6,231.0 L670.5,231.5 L672.5,232.1 L674.4,232.7 L676.3,233.2 L678.2,233.8 L680.2,234.4 L682.1,235.0 L684.0,235.5 L685.9,236.1 L687.9,236.7 L689.8,237.3 L691.7,237.9 L693.6,238.4 L695.6,239.0 L697.5,239.6 L699.4,240.2 L701.3,240.8 L703.3,241.4 L705.2,242.0 L707.1,242.5 L709.0,243.1 L710.9,243.7 L712.9,244.3 L714.8,244.9 L716.7,245.5 L718.6,246.1 L720.5,246.7 L722.5,247.3 L724.4,247.9 L726.3,248.5 L728.2,249.1 L730.1,249.7 L732.1,250.3 L734.0,250.9 L735.9,251.5 L737.8,252.1 L739.7,252.7 L741.6,253.3 L743.6,254.0 L745.5,254.6 L747.4,255.2 L749.3,255.8 L751.2,256.4 L753.1,257.0 L755.1,257.7 L757.0,258.3 L758.9,258.9 L760.8,259.5 L762.7,260.1 L764.6,260.8 L766.5,261.4 L768.4,262.0 L770.4,262.7 L772.3,263.3 L774.2,263.9 L776.1,264.5 L778.0,265.2 L779.9,265.8 L781.8,266.4 L783.7,267.1 L785.6,267.7 L787.5,268.4 L789.4,269.0 L791.4,269.6 L793.3,270.3 L795.2,270.9 L797.1,271.6 L799.0,272.2 L800.9,272.9 L802.8,273.5 L804.7,274.2 L806.6,274.8 L808.5,275.5 L810.4,276.1 L812.3,276.8 L814.2,277.4 L816.1,278.1 L818.0,278.7 L819.9,279.4 L821.8,280.1 L823.7,280.7 L825.6,281.4 L827.5,282.1 L829.4,282.7 L831.3,283.4 L833.2,284.1 L835.1,284.7 L837.0,285.4 L838.9,286.1 L840.8,286.7 L842.7,287.4 L844.6,288.1 L846.5,288.8 L848.4,289.5 L850.3,290.1 L852.2,290.8 L854.1,291.5 L855.9,292.2 L857.8,292.9 L859.7,293.5 L861.6,294.2 L863.5,294.9 L865.4,295.6 L867.3,296.3 L869.2,297.0 L871.1,297.7 L873.0,298.4 L874.9,299.1 L876.7,299.8 L878.6,300.5 L880.5,301.2 L882.4,301.9 L884.3,302.6 L886.2,303.3 L888.1,304.0 L889.9,304.7 L891.8,305.4 L893.7,306.1 L895.6,306.8 L897.5,307.5 L899.4,308.2 L901.2,308.9 L903.1,309.6 L905.0,310.4 L906.9,311.1 L908.8,311.8 L910.6,312.5 L912.5,313.2 L914.4,314.0 L916.3,314.7 L918.2,315.4 L920.0,316.1 L921.9,316.9 L923.8,317.6 L925.7,318.3 L927.5,319.0 L929.4,319.8 L931.3,320.5 L933.2,321.2 L935.0,322.0 L936.9,322.7 L938.8,323.4 L940.7,324.2 L942.5,324.9 L944.4,325.7 L946.3,326.4 L948.1,327.2 L950.0,327.9 L951.9,328.6 L953.7,329.4 L955.6,330.1 L957.5,330.9 L959.3,331.6 L961.2,332.4 L963.1,333.2 L964.9,333.9 L966.8,334.7 L968.7,335.4 L970.5,336.2 L972.4,336.9 L974.2,337.7 L976.1,338.5 L978.0,339.2 L979.8,340.0 L981.7,340.8 L983.6,341.5 L985.4,342.3 L987.3,343.1 L989.1,343.8 L991.0,344.6 L992.8,345.4 L994.7,346.2 L996.6,346.9 L998.4,347.7 L1000.3,348.5 L1002.1,349.3 L1004.0,350.1 L1005.8,350.8 L1007.7,351.6 L1009.5,352.4 L1011.4,353.2 L1013.2,354.0 L1015.1,354.8 L1016.9,355.6 L1018.8,356.4 L1020.6,357.2 L1022.5,358.0 L1024.3,358.8 L1026.2,359.6 L1028.0,360.4 L1029.8,361.2 L1031.7,362.0 L1033.5,362.8 L1035.4,363.6 L1037.2,364.4 L1039.1,365.2 L1040.9,366.0 L1042.7,366.8 L1044.6,367.6 L1046.4,368.4 L1048.3,369.2 L1050.1,370.0 L1051.9,370.9 L1053.8,371.7 L1055.6,372.5 L1057.4,373.3 L1059.3,374.1 L1061.1,375.0 L1063.0,375.8 L1064.8,376.6 L1066.6,377.4 L1068.5,378.3 L1070.3,379.1 L1072.1,379.9 L1073.9,380.8 L1075.8,381.6 L1077.6,382.4 L1079.4,383.3 L1081.3,384.1 L1083.1,384.9 L1084.9,385.8 L1086.7,386.6 L1088.6,387.5 L1090.4,388.3 L1092.2,389.1 L1094.0,390.0 L1095.9,390.8 L1097.7,391.7 L1099.5,392.5" stroke="#00b050" stroke-width="3.4" filter="url(#sh)"/>
<path d="M923.3,392.5 C953.3,401.3 1073.3,436.6 1103.3,445.4" stroke="#00b050" stroke-width="3.4" filter="url(#sh)"/>
<path d="M856.4,449.6 C897.5,460.0 1062.1,501.7 1103.3,512.1" stroke="#00b050" stroke-width="3.4" filter="url(#sh)"/>
<path d="M360.0,365.3 L362.0,365.8 L363.9,366.4 L365.8,367.0 L367.8,367.6 L369.7,368.2 L371.6,368.9 L373.5,369.5 L375.5,370.2 L377.4,370.9 L379.2,371.6 L381.1,372.3 L383.0,373.0 L384.9,373.7 L386.8,374.5 L388.6,375.2 L390.5,376.0 L392.3,376.8 L394.2,377.6 L396.0,378.4 L397.9,379.2 L399.7,380.0 L401.5,380.8 L403.3,381.7 L405.2,382.5 L407.0,383.4 L408.8,384.2 L410.6,385.1 L412.4,386.0 L414.2,386.8 L416.0,387.7 L417.8,388.6 L419.6,389.5 L421.4,390.4 L423.2,391.4 L425.0,392.3 L426.8,393.2 L428.6,394.1 L430.3,395.0 L432.1,396.0 L433.9,396.9 L435.7,397.8 L437.5,398.8 L439.3,399.7 L441.0,400.6 L442.8,401.6 L444.6,402.5 L446.4,403.4 L448.1,404.4 L449.9,405.3 L451.7,406.2 L453.5,407.2 L455.3,408.1 L457.1,409.0 L458.8,410.0 L460.6,410.9 L462.4,411.8 L464.2,412.7 L466.0,413.6 L467.8,414.5 L469.6,415.4 L471.4,416.3 L473.2,417.2 L475.0,418.1 L476.8,419.0 L478.6,419.9 L480.4,420.8 L482.2,421.7 L484.0,422.6 L485.8,423.5 L487.5,424.5 L489.3,425.4 L491.1,426.4 L492.8,427.4 L494.6,428.4 L496.3,429.4 L498.0,430.5 L499.7,431.6 L501.4,432.7 L503.1,433.8 L504.8,435.0 L506.4,436.1 L508.0,437.4 L509.7,438.6 L511.3,439.9 L512.8,441.3 L514.3,442.7 L515.7,444.1 L517.0,445.7 L518.2,447.3 L519.2,449.0 L520.0,450.8 L520.6,452.7 L521.1,454.7 L521.4,456.7 L521.5,458.7 L521.5,460.7 L521.2,462.7 L520.8,464.7 L520.2,466.6 L519.4,468.5 L518.5,470.3 L517.4,472.1 L516.1,473.7 L514.8,475.2 L513.3,476.7 L511.7,478.1 L510.1,479.5 L508.5,480.8 L506.9,482.0 L505.3,483.2 L503.6,484.3 L502.0,485.4 L500.4,486.5 L498.7,487.6 L497.1,488.7 L495.5,489.7 L493.8,490.8 L492.2,491.8 L490.6,492.9 L488.9,493.9 L487.3,495.0 L485.6,496.2 L484.0,497.3 L482.3,498.6 L480.7,499.8 L479.1,501.1 L477.4,502.5 L475.8,503.9 L474.1,505.5 L472.5,507.0 L471.0,508.7 L469.7,510.3 L468.7,512.0 L467.9,513.6 L467.6,515.2 L467.8,516.8 L468.5,518.2 L469.8,519.6 L471.4,520.9 L473.3,522.1 L475.2,523.4 L477.0,524.8 L478.2,526.4 L478.8,528.2 L478.8,529.9 L478.0,531.3 L476.6,532.5 L475.0,533.6 L473.2,534.6 L471.4,535.6 L469.6,536.6 L467.8,537.5 L465.9,538.4 L464.1,539.2 L462.2,540.0 L460.4,540.8 L458.5,541.6 L456.6,542.3 L454.8,543.0 L452.9,543.7 L451.0,544.4 L449.1,545.0 L447.1,545.6 L445.2,546.2 L443.3,546.7 L441.4,547.3 L439.4,547.8 L437.5,548.3 L435.5,548.8 L433.6,549.3 L431.6,549.7 L429.6,550.2 L427.7,550.6 L425.7,551.0 L423.7,551.5 L421.7,551.9 L419.8,552.2 L417.8,552.6 L415.8,553.0 L413.8,553.4 L411.8,553.8 L409.8,554.1 L407.8,554.5 L405.8,554.8 L403.8,555.2 L401.8,555.6 L399.9,555.9 L397.9,556.3 L395.9,556.6 L393.9,557.0 L391.9,557.4 L389.9,557.8 L387.9,558.2 L386.0,558.6 L384.0,559.0 L382.0,559.4 L380.0,559.8 L378.1,560.3 L376.1,560.7 L374.1,561.2 L372.2,561.7 L370.2,562.2 L368.3,562.7 L366.4,563.3 L364.4,563.8 L362.5,564.4 L360.6,565.0 L358.7,565.6 L356.8,566.3 L354.9,567.0 L353.0,567.7" stroke="#8064a2" stroke-width="4.4" filter="url(#sh)"/>
<path d="M328.4,361.6 L330.3,362.5 L332.2,363.4 L334.1,364.2 L336.0,365.1 L337.9,365.9 L339.7,366.7 L341.6,367.5 L343.5,368.3 L345.4,369.1 L347.3,369.9 L349.2,370.7 L351.1,371.4 L353.0,372.2 L354.9,372.9 L356.7,373.6 L358.6,374.3 L360.5,375.0 L362.4,375.7 L364.3,376.4 L366.2,377.1 L368.0,377.8 L369.9,378.5 L371.8,379.2 L373.7,379.9 L375.5,380.5 L377.4,381.2 L379.3,381.9 L381.2,382.5 L383.0,383.2 L384.9,383.9 L386.8,384.5 L388.6,385.2 L390.5,385.9 L392.3,386.5 L394.2,387.2 L396.1,387.9 L397.9,388.6 L399.8,389.3 L401.6,390.0 L403.5,390.7 L405.3,391.4 L407.1,392.1 L409.0,392.8 L410.8,393.5 L412.7,394.2 L414.5,395.0 L416.3,395.7 L418.1,396.5 L420.0,397.2 L421.8,398.0 L423.6,398.8 L425.4,399.6 L427.2,400.4 L429.0,401.2 L430.9,402.1 L432.7,402.9 L434.5,403.8 L436.3,404.7 L438.1,405.6 L439.8,406.5 L441.6,407.4 L443.4,408.4 L445.2,409.3 L447.0,410.3 L448.7,411.3 L450.5,412.3 L452.3,413.4 L454.0,414.4 L455.8,415.5 L457.6,416.6 L459.3,417.7 L461.1,418.9 L462.8,420.1 L464.5,421.2 L466.2,422.5 L468.0,423.7 L469.6,424.9 L471.3,426.2 L473.0,427.5 L474.6,428.8 L476.2,430.2 L477.8,431.5 L479.4,432.9 L480.9,434.3 L482.4,435.7 L483.9,437.2 L485.3,438.6 L486.8,440.1 L488.1,441.6 L489.5,443.1 L490.8,444.7 L492.0,446.2 L493.2,447.8 L494.4,449.4 L495.5,451.0 L496.5,452.6 L497.6,454.3 L498.5,456.0 L499.4,457.6 L500.3,459.3 L501.0,461.1 L501.8,462.8 L502.4,464.6 L503.0,466.3 L503.6,468.1 L504.0,469.9 L504.4,471.8 L504.7,473.6 L505.0,475.5 L505.2,477.3 L505.2,479.2 L505.3,481.1 L505.2,483.1 L505.0,485.0 L504.8,487.0 L504.5,488.9 L504.1,490.9 L503.7,492.8 L503.1,494.8 L502.5,496.7 L501.8,498.7 L501.1,500.6 L500.3,502.5 L499.4,504.4 L498.4,506.2 L497.4,508.0 L496.4,509.8 L495.2,511.5 L494.0,513.2 L492.8,514.8 L491.5,516.4 L490.1,517.9 L488.7,519.4 L487.3,520.8 L485.8,522.2 L484.2,523.4 L482.6,524.6 L481.0,525.8 L479.3,526.8 L477.6,527.9 L475.9,528.8 L474.1,529.8 L472.3,530.6 L470.5,531.5 L468.6,532.3 L466.7,533.0 L464.8,533.7 L462.9,534.4 L461.0,535.1 L459.1,535.7 L457.1,536.3 L455.2,536.9 L453.2,537.5 L451.2,538.1 L449.3,538.6 L447.3,539.2 L445.3,539.8 L443.4,540.3 L441.4,540.8 L439.5,541.4 L437.5,541.9 L435.5,542.4 L433.6,542.9 L431.6,543.4 L429.7,543.9 L427.7,544.4 L425.7,544.9 L423.8,545.4 L421.8,545.8 L419.9,546.3 L417.9,546.8 L416.0,547.2 L414.0,547.7 L412.0,548.1 L410.1,548.6 L408.1,549.0 L406.2,549.4 L404.2,549.9 L402.3,550.3 L400.3,550.7 L398.4,551.1 L396.4,551.5 L394.4,551.9 L392.5,552.3 L390.5,552.7 L388.6,553.1 L386.6,553.5 L384.7,553.9 L382.7,554.3 L380.7,554.6 L378.8,555.0 L376.8,555.4 L374.8,555.8 L372.9,556.1 L370.9,556.5 L369.0,556.8 L367.0,557.2 L365.0,557.6 L363.1,557.9 L361.1,558.3 L359.1,558.6 L357.2,558.9 L355.2,559.3 L353.2,559.6 L351.2,560.0 L349.3,560.3 L347.3,560.6 L345.3,561.0 L343.3,561.3 L341.4,561.6 L339.4,562.0 L337.4,562.3 L335.4,562.6 L333.4,562.9 L331.5,563.3 L329.5,563.6 L327.5,563.9 L325.5,564.2 L323.5,564.6 L321.5,564.9 L319.5,565.2 L317.5,565.5 L315.5,565.9 L313.5,566.2 L311.5,566.5 L309.5,566.8 L307.5,567.2 L305.5,567.5" stroke="#9bbb59" stroke-width="4.6" filter="url(#sh)"/>
<path d="M374.5,11.2 L375.6,12.9 L376.7,14.6 L377.8,16.2 L378.9,17.9 L380.0,19.6 L381.2,21.3 L382.3,22.9 L383.4,24.6 L384.5,26.3 L385.6,27.9 L386.8,29.6 L387.9,31.3 L389.0,32.9 L390.2,34.6 L391.3,36.2 L392.5,37.9 L393.6,39.5 L394.8,41.1 L395.9,42.8 L397.1,44.4 L398.2,46.1 L399.4,47.7 L400.6,49.3 L401.7,51.0 L402.9,52.6 L404.1,54.2 L405.3,55.8 L406.4,57.4 L407.6,59.1 L408.8,60.7 L410.0,62.3 L411.2,63.9 L412.4,65.5 L413.6,67.1 L414.8,68.8 L416.0,70.4 L417.2,72.0 L418.3,73.6 L419.5,75.2 L420.8,76.8 L422.0,78.4 L423.2,80.0 L424.4,81.6 L425.6,83.2 L426.8,84.8 L428.0,86.4 L429.2,88.0 L430.4,89.6 L431.6,91.2 L432.8,92.8 L434.0,94.4 L435.3,96.0 L436.5,97.6 L437.7,99.2 L438.9,100.8 L440.1,102.4 L441.3,104.0 L442.6,105.6 L443.8,107.2 L445.0,108.8 L446.2,110.4 L447.4,112.0 L448.6,113.6 L449.9,115.2 L451.1,116.8 L452.3,118.4 L453.5,120.0 L454.7,121.6 L455.9,123.2 L457.1,124.8 L458.4,126.4 L459.6,128.0 L460.8,129.6 L462.0,131.2 L463.2,132.8 L464.4,134.4 L465.6,136.0 L466.9,137.6 L468.1,139.2 L469.3,140.8 L470.5,142.5 L471.7,144.1 L472.9,145.7 L474.1,147.3 L475.3,148.9 L476.5,150.5 L477.8,152.1 L479.0,153.7 L480.2,155.3 L481.4,156.9 L482.6,158.5 L483.8,160.1 L485.0,161.7 L486.2,163.4 L487.4,165.0 L488.6,166.6 L489.9,168.2 L491.1,169.8 L492.3,171.4 L493.5,173.0 L494.7,174.6 L495.9,176.2 L497.1,177.8 L498.3,179.4 L499.5,181.1 L500.7,182.7 L501.9,184.3 L503.1,185.9 L504.3,187.5 L505.6,189.1 L506.8,190.7 L508.0,192.3 L509.2,193.9 L510.4,195.5 L511.6,197.1 L512.8,198.8 L514.0,200.4 L515.2,202.0 L516.4,203.6 L517.6,205.2 L518.8,206.8 L520.0,208.4 L521.2,210.0 L522.4,211.6 L523.6,213.2 L524.8,214.8 L526.0,216.4 L527.2,218.0 L528.4,219.6 L529.6,221.2 L530.8,222.9 L532.0,224.5 L533.2,226.1 L534.5,227.7 L535.7,229.3 L536.9,230.9 L538.1,232.5 L539.3,234.1 L540.5,235.7 L541.7,237.3 L542.9,238.9 L544.1,240.5 L545.3,242.1 L546.5,243.7 L547.7,245.3 L548.9,246.9 L550.1,248.5 L551.3,250.1 L552.5,251.7 L553.7,253.3 L554.9,254.9 L556.1,256.5 L557.3,258.1 L558.4,259.7 L559.6,261.3 L560.8,262.9 L562.0,264.5 L563.2,266.1 L564.4,267.7 L565.6,269.3 L566.8,270.9 L568.0,272.5 L569.1,274.1 L570.3,275.8 L571.5,277.4 L572.7,279.0 L573.8,280.6 L575.0,282.2 L576.2,283.9 L577.4,285.5 L578.5,287.1 L579.7,288.8 L580.8,290.4 L582.0,292.1 L583.1,293.7 L584.3,295.4 L585.4,297.0 L586.6,298.7 L587.7,300.3 L588.9,302.0 L590.0,303.7 L591.1,305.3 L592.2,307.0 L593.4,308.7 L594.5,310.4 L595.6,312.1 L596.7,313.8 L597.8,315.5 L598.9,317.2 L600.0,318.9 L601.1,320.6 L602.2,322.4 L603.3,324.1 L604.3,325.8 L605.4,327.6 L606.5,329.3 L607.5,331.1 L608.5,332.8 L609.5,334.6 L610.5,336.4 L611.5,338.2 L612.4,340.0 L613.3,341.8 L614.2,343.7 L615.0,345.5 L615.7,347.3 L616.5,349.2 L617.1,351.1 L617.7,353.0 L618.3,354.9 L618.8,356.8 L619.2,358.8 L619.6,360.8 L619.8,362.7 L620.0,364.7 L620.2,366.7 L620.2,368.7 L620.2,370.7 L620.1,372.7 L619.9,374.7 L619.6,376.6 L619.3,378.6 L618.8,380.5 L618.3,382.4 L617.7,384.2 L617.0,386.0 L616.2,387.7 L615.2,389.4 L614.2,391.0 L613.1,392.6 L611.9,394.1 L610.6,395.5 L609.2,396.9 L607.7,398.2 L606.1,399.4 L604.4,400.6 L602.7,401.7 L600.9,402.8 L599.2,403.9 L597.4,405.0 L595.6,406.0 L593.8,407.1 L592.1,408.3 L590.4,409.5 L588.8,410.7 L587.3,412.0 L585.9,413.4 L584.5,414.8 L583.2,416.3 L581.9,417.8 L580.7,419.3 L579.5,420.9 L578.4,422.5 L577.3,424.2 L576.2,425.8 L575.1,427.5 L574.0,429.2 L572.9,430.9 L571.8,432.5 L570.7,434.2 L569.6,435.8 L568.4,437.5 L567.3,439.1 L566.1,440.7 L564.9,442.4 L563.7,444.0 L562.5,445.6 L561.2,447.1 L559.9,448.7 L558.6,450.3 L557.3,451.8 L555.9,453.4 L554.6,454.9 L553.2,456.4 L551.8,458.0 L550.5,459.5 L549.2,461.1 L547.9,462.6 L546.6,464.2 L545.3,465.8 L544.1,467.4 L543.0,469.0 L541.9,470.7 L540.8,472.4 L539.8,474.1 L538.9,475.8 L538.1,477.5 L537.3,479.3 L536.6,481.2 L536.1,483.1 L535.5,485.0 L535.1,486.9 L534.7,488.9 L534.4,490.9 L534.0,492.9 L533.7,494.9 L533.5,496.9 L533.2,499.0 L532.9,501.0 L532.6,503.1 L532.3,505.1 L531.9,507.2 L531.5,509.2 L531.1,511.2 L530.6,513.2 L530.1,515.1 L529.5,517.0 L528.8,518.9 L528.1,520.7 L527.3,522.5 L526.4,524.2 L525.5,525.8 L524.5,527.4 L523.3,528.9 L522.1,530.3 L520.8,531.7 L519.4,532.9 L517.9,534.1 L516.3,535.1 L514.6,536.1 L512.8,536.9 L511.0,537.7 L509.1,538.5 L507.1,539.2 L505.2,539.8 L503.2,540.4 L501.2,540.9 L499.2,541.4 L497.1,541.9 L495.1,542.4 L493.1,542.8 L491.1,543.2 L489.0,543.6 L487.0,544.0 L485.0,544.4 L483.0,544.8 L481.0,545.2 L479.0,545.5 L477.0,545.9 L475.0,546.3 L473.0,546.7 L471.0,547.1 L469.0,547.4 L467.0,547.8 L465.0,548.2 L463.0,548.6 L461.1,548.9 L459.1,549.3 L457.1,549.7 L455.2,550.0 L453.2,550.4 L451.2,550.8 L449.3,551.1 L447.3,551.5 L445.4,551.9 L443.4,552.2 L441.5,552.6 L439.5,553.0 L437.5,553.3 L435.6,553.7 L433.6,554.0 L431.7,554.4 L429.7,554.7 L427.8,555.1 L425.8,555.4 L423.8,555.8 L421.9,556.1 L419.9,556.5 L417.9,556.8 L416.0,557.2 L414.0,557.5 L412.0,557.8 L410.0,558.2 L408.1,558.5 L406.1,558.9 L404.1,559.2 L402.1,559.5 L400.1,559.8 L398.1,560.2 L396.1,560.5 L394.1,560.9 L392.1,561.2 L390.1,561.7 L388.2,562.1 L386.2,562.6 L384.3,563.1 L382.4,563.7 L380.5,564.4 L378.6,565.1 L376.8,565.9 L375.0,566.8" stroke="#000000" stroke-width="4.3" filter="url(#sh)"/>
<circle cx="375.5" cy="566.3" r="2.6" fill="#000"/>
</g>
<g stroke="#000" stroke-width="3.3"><line x1="106.8" y1="44.6" x2="125.4" y2="44.6"/>
<line x1="106.8" y1="198.2" x2="125.4" y2="198.2"/>
<line x1="106.8" y1="313.8" x2="125.4" y2="313.8"/>
<line x1="106.8" y1="351.9" x2="125.4" y2="351.9"/>
<line x1="106.8" y1="400.2" x2="125.4" y2="400.2"/>
<line x1="106.8" y1="458.8" x2="125.4" y2="458.8"/>
<line x1="106.8" y1="544.2" x2="125.4" y2="544.2"/>
<line x1="106.8" y1="73.1" x2="116" y2="73.1"/>
<line x1="106.8" y1="95.7" x2="116" y2="95.7"/>
<line x1="106.8" y1="127.2" x2="116" y2="127.2"/>
<line x1="106.8" y1="159.1" x2="116" y2="159.1"/>
<line x1="106.8" y1="246.7" x2="116" y2="246.7"/>
<line x1="245.5" y1="572.9" x2="245.5" y2="554.3"/>
<line x1="385.4" y1="572.9" x2="385.4" y2="554.3"/>
<line x1="529.6" y1="572.9" x2="529.6" y2="554.3"/>
<line x1="673.8" y1="572.9" x2="673.8" y2="554.3"/>
<line x1="818.1" y1="572.9" x2="818.1" y2="554.3"/>
<line x1="963" y1="572.9" x2="963" y2="554.3"/></g>
<text transform="translate(34.52 51.67) scale(1.093 1)" font-family='"Liberation Sans", sans-serif' font-size="23.73" fill="#000" stroke="#000" stroke-width="0.3">1000</text>
<text transform="translate(49.78 204.48) scale(1.110 1)" font-family='"Liberation Sans", sans-serif' font-size="23.02" fill="#000" stroke="#000" stroke-width="0.3">500</text>
<text transform="translate(50.43 320.58) scale(1.122 1)" font-family='"Liberation Sans", sans-serif' font-size="22.74" fill="#000" stroke="#000" stroke-width="0.3">300</text>
<text transform="translate(49.50 359.17) scale(1.076 1)" font-family='"Liberation Sans", sans-serif' font-size="24.01" fill="#000" stroke="#000" stroke-width="0.3">250</text>
<text transform="translate(49.70 407.57) scale(1.076 1)" font-family='"Liberation Sans", sans-serif' font-size="24.01" fill="#000" stroke="#000" stroke-width="0.3">200</text>
<text transform="translate(50.88 466.31) scale(1.048 1)" font-family='"Liberation Sans", sans-serif' font-size="24.08" fill="#000" stroke="#000" stroke-width="0.3">150</text>
<text transform="translate(50.67 551.46) scale(1.050 1)" font-family='"Liberation Sans", sans-serif' font-size="24.15" fill="#000" stroke="#000" stroke-width="0.3">100</text>
<text transform="translate(88.29 605.53) scale(1.134 1)" font-family='"Liberation Serif", serif' font-size="28.16" fill="#000" stroke="#000" stroke-width="0.15">10</text>
<text transform="translate(120.35 595.90) scale(1.182 1)" font-family='"Liberation Serif", serif' font-size="20.30" fill="#000" stroke="#000" stroke-width="0.15">2</text>
<text transform="translate(223.09 605.53) scale(1.134 1)" font-family='"Liberation Serif", serif' font-size="28.16" fill="#000" stroke="#000" stroke-width="0.15">10</text>
<text transform="translate(255.05 595.90) scale(1.184 1)" font-family='"Liberation Serif", serif' font-size="20.30" fill="#000" stroke="#000" stroke-width="0.15">3</text>
<text transform="translate(365.79 605.53) scale(1.134 1)" font-family='"Liberation Serif", serif' font-size="28.16" fill="#000" stroke="#000" stroke-width="0.15">10</text>
<text transform="translate(398.43 595.90) scale(1.189 1)" font-family='"Liberation Serif", serif' font-size="20.30" fill="#000" stroke="#000" stroke-width="0.15">4</text>
<text transform="translate(513.09 605.53) scale(1.134 1)" font-family='"Liberation Serif", serif' font-size="28.16" fill="#000" stroke="#000" stroke-width="0.15">10</text>
<text transform="translate(544.81 595.90) scale(1.182 1)" font-family='"Liberation Serif", serif' font-size="20.30" fill="#000" stroke="#000" stroke-width="0.15">5</text>
<text transform="translate(654.39 605.53) scale(1.134 1)" font-family='"Liberation Serif", serif' font-size="28.16" fill="#000" stroke="#000" stroke-width="0.15">10</text>
<text transform="translate(686.47 595.90) scale(1.185 1)" font-family='"Liberation Serif", serif' font-size="20.30" fill="#000" stroke="#000" stroke-width="0.15">6</text>
<text transform="translate(800.99 605.53) scale(1.134 1)" font-family='"Liberation Serif", serif' font-size="28.16" fill="#000" stroke="#000" stroke-width="0.15">10</text>
<text transform="translate(832.52 595.90) scale(1.183 1)" font-family='"Liberation Serif", serif' font-size="20.30" fill="#000" stroke="#000" stroke-width="0.15">7</text>
<text transform="translate(940.69 605.53) scale(1.134 1)" font-family='"Liberation Serif", serif' font-size="28.16" fill="#000" stroke="#000" stroke-width="0.15">10</text>
<text transform="translate(972.88 595.90) scale(1.185 1)" font-family='"Liberation Serif", serif' font-size="20.30" fill="#000" stroke="#000" stroke-width="0.15">8</text>
<text transform="translate(1078.39 605.53) scale(1.134 1)" font-family='"Liberation Serif", serif' font-size="28.16" fill="#000" stroke="#000" stroke-width="0.15">10</text>
<text transform="translate(1110.72 595.90) scale(1.185 1)" font-family='"Liberation Serif", serif' font-size="20.30" fill="#000" stroke="#000" stroke-width="0.15">9</text>
<text transform="translate(435.18 653.57) scale(1.074 1)" font-family='"Liberation Sans", sans-serif' font-size="25.21" fill="#000" stroke="#000" stroke-width="0.3">Number density</text>
<text transform="translate(631.68 653.96) scale(1.164 1)" font-family='"Liberation Serif", serif' font-size="29.78" fill="#000" stroke="#000" stroke-width="0.3">(</text>
<text transform="translate(642.26 654.50) scale(0.980 1)" font-family='"Liberation Serif", serif' font-size="30.56" fill="#000" stroke="#000" stroke-width="0.3">cm</text>
<text transform="translate(694.82 643.81) scale(1.276 1)" font-family='"Liberation Serif", serif' font-size="19.35" fill="#000" stroke="#000" stroke-width="0.3">3</text>
<text transform="translate(708.35 653.85) scale(1.115 1)" font-family='"Liberation Serif", serif' font-size="29.34" fill="#000" stroke="#000" stroke-width="0.3">)</text>
<text transform="translate(679.69 648.08) scale(0.768 1)" font-family='"Liberation Serif", serif' font-size="34.13" fill="#222">−</text>
<text transform="translate(27.8 392.55) rotate(-90) scale(1.001 1)" font-family='"Liberation Sans", sans-serif' font-size="27.33" fill="#000" stroke="#000" stroke-width="0.3">Altitude (km)</text>
<text transform="translate(179.98 106.40) scale(0.981 1)" font-family='"Liberation Serif", serif' font-size="29.02" fill="#953735" stroke-width="0.35" stroke="#953735">He</text>
<text transform="translate(213.93 98.72) scale(0.852 1)" font-family='"Liberation Serif", serif' font-size="27.48" fill="#953735" stroke-width="0.35" stroke="#953735">+</text>
<text transform="translate(256.90 154.40) scale(0.823 1)" font-family='"Liberation Serif", serif' font-size="29.63" fill="#76923c" stroke-width="0.35" stroke="#76923c">H</text>
<text transform="translate(277.28 145.74) scale(0.954 1)" font-family='"Liberation Serif", serif' font-size="27.69" fill="#76923c" stroke-width="0.35" stroke="#76923c">+</text>
<text transform="translate(367.16 116.62) scale(0.877 1)" font-family='"Liberation Serif", serif' font-size="29.02" fill="#f79646" stroke-width="0.35" stroke="#f79646">O</text>
<text transform="translate(386.30 108.97) scale(0.932 1)" font-family='"Liberation Serif", serif' font-size="27.91" fill="#f79646" stroke-width="0.35" stroke="#f79646">+</text>
<text transform="translate(425.68 67.12) scale(1.194 1)" font-family='"Liberation Serif", serif' font-size="28.28" fill="#1a1a1a" stroke="#1a1a1a" stroke-width="0.25">e</text>
<text transform="translate(440.23 61.78) scale(0.806 1)" font-family='"Liberation Serif", serif' font-size="34.13" fill="#333">−</text>
<text transform="translate(351.89 213.50) scale(0.815 1)" font-family='"Liberation Serif", serif' font-size="30.39" fill="#0070c0" stroke-width="0.35" stroke="#0070c0">N</text>
<text transform="translate(372.35 204.59) scale(0.963 1)" font-family='"Liberation Serif", serif' font-size="28.12" fill="#0070c0" stroke-width="0.35" stroke="#0070c0">+</text>
<text transform="translate(218.50 366.40) scale(0.772 1)" font-family='"Liberation Serif", serif' font-size="31.31" fill="#953735" stroke-width="0.35" stroke="#953735">N</text>
<text transform="translate(237.81 357.26) scale(1.021 1)" font-family='"Liberation Serif", serif' font-size="27.37" fill="#953735" stroke-width="0.35" stroke="#953735">+</text>
<text transform="translate(237.92 372.70) scale(1.176 1)" font-family='"Liberation Serif", serif' font-size="18.88" fill="#953735" stroke-width="0.35" stroke="#953735">2</text>
<text transform="translate(386.85 376.80) scale(0.865 1)" font-family='"Liberation Serif", serif' font-size="29.93" fill="#604a7b" stroke-width="0.35" stroke="#604a7b">NO</text>
<text transform="translate(425.27 368.50) scale(0.977 1)" font-family='"Liberation Serif", serif' font-size="27.26" fill="#604a7b" stroke-width="0.35" stroke="#604a7b">+</text>
<text transform="translate(324.44 404.75) scale(0.843 1)" font-family='"Liberation Serif", serif' font-size="30.59" fill="#76923c" stroke-width="0.35" stroke="#76923c">O</text>
<text transform="translate(343.74 396.64) scale(1.020 1)" font-family='"Liberation Serif", serif' font-size="28.66" fill="#76923c" stroke-width="0.35" stroke="#76923c">+</text>
<text transform="translate(343.81 411.60) scale(1.258 1)" font-family='"Liberation Serif", serif' font-size="19.63" fill="#76923c" stroke-width="0.35" stroke="#76923c">2</text>
<text transform="translate(683.69 269.80) scale(0.823 1)" font-family='"Liberation Serif", serif' font-size="30.09" fill="#00b050" stroke-width="0.35" stroke="#00b050">N</text>
<text transform="translate(701.91 276.30) scale(1.286 1)" font-family='"Liberation Serif", serif' font-size="21.14" fill="#00b050" stroke-width="0.35" stroke="#00b050">2</text>
<text transform="translate(938.53 384.92) scale(0.894 1)" font-family='"Liberation Serif", serif' font-size="29.17" fill="#00b050" stroke-width="0.35" stroke="#00b050">O</text>
<text transform="translate(957.23 390.80) scale(1.199 1)" font-family='"Liberation Serif", serif' font-size="20.39" fill="#00b050" stroke-width="0.35" stroke="#00b050">2</text>
<text transform="translate(589.31 115.55) scale(0.989 1)" font-family='"Liberation Sans", sans-serif' font-size="25.80" fill="#00b050">He</text>
<text transform="translate(641.87 170.55) scale(1.026 1)" font-family='"Liberation Sans", sans-serif' font-size="25.28" fill="#00b050">O</text>
<text transform="translate(877.95 441.90) scale(1.022 1)" font-family='"Liberation Sans", sans-serif' font-size="26.31" fill="#00b050">Ar</text>
</svg>
</body></html>
